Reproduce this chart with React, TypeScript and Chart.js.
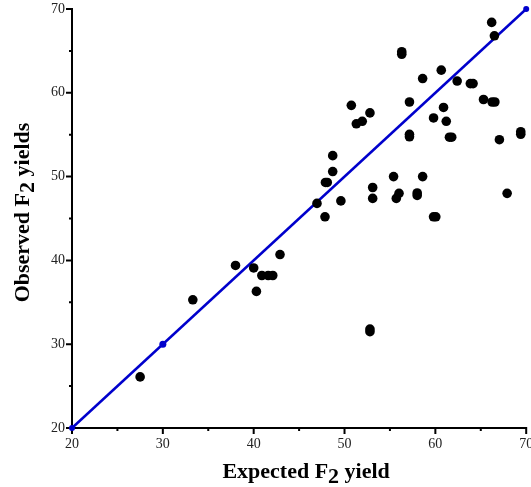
import React, { useEffect, useRef } from "react";
import { Chart, registerables } from "chart.js";

Chart.register(...registerables);

// Expected F2 yield (x) vs observed F2 yields (y)
const expectedYield: number[] = [
  27.5, 33.3, 38.0, 40.0, 40.9, 41.6, 42.1, 40.3, 42.9, 46.97,
  47.85, 47.9, 48.1, 48.7, 48.7, 49.6, 50.75, 51.3, 51.95, 52.8,
  52.8, 52.8, 53.1, 53.1, 55.4, 55.7, 56.0, 56.3, 56.3, 57.15,
  57.15, 57.15, 58.0, 58.0, 58.6, 58.6, 59.8, 59.8, 60.05, 60.65,
  60.9, 61.2, 61.55, 61.8, 62.4, 63.85, 64.15, 65.3, 66.25, 66.55,
  66.2, 66.5, 67.05, 67.9, 69.4, 69.4,
];
const observedYield: number[] = [
  26.1, 35.3, 39.4, 39.1, 38.2, 38.2, 38.2, 36.3, 40.7, 46.8,
  45.2, 49.3, 49.3, 50.6, 52.5, 47.1, 58.5, 56.3, 56.6, 57.6,
  31.5, 31.8, 48.7, 47.4, 50.0, 47.4, 48.0, 64.6, 64.9, 58.9,
  54.75, 55.05, 47.75, 48.05, 50.0, 61.7, 57.0, 45.2, 45.2, 62.7,
  58.25, 56.6, 54.7, 54.7, 61.4, 61.1, 61.1, 59.2, 58.9, 58.9,
  68.4, 66.8, 54.4, 48.0, 55.05, 55.35,
];
// 1:1 reference line and the marked point on it
const lineX: number[] = [20, 70];
const lineY: number[] = [20, 70];
const markX: number[] = [30];
const markY: number[] = [30];

const AXIS_MIN = 20;
const AXIS_MAX = 70;
const TICK_STEP = 5;

const xTitleParts: [string, boolean][] = [["Expected F", false], ["2", true], [" yield", false]];
const yTitleParts: [string, boolean][] = [["Observed F", false], ["2", true], [" yields", false]];

const SERIF = '"Liberation Serif", "Times New Roman", serif';
const BLUE = "#0000cc";

function drawParts(ctx: CanvasRenderingContext2D, parts: [string, boolean][], cx: number, baseline: number) {
  ctx.font = `bold 22px ${SERIF}`;
  const widths = parts.map(([t]) => ctx.measureText(t).width);
  const total = widths.reduce((a, b) => a + b, 0);
  let x = cx - total / 2;
  ctx.textBaseline = "alphabetic";
  ctx.textAlign = "left";
  parts.forEach(([t, sub], i) => {
    ctx.fillText(t, x, baseline + (sub ? 5 : 0));
    x += widths[i];
  });
}

const axesPlugin = {
  id: "customAxes",
  beforeDatasetsDraw(chart: any) {
    const { ctx, chartArea } = chart;
    const xs = chart.scales.x;
    const ys = chart.scales.y;
    ctx.save();
    ctx.strokeStyle = "#000";
    ctx.lineWidth = 2;
    ctx.beginPath();
    ctx.moveTo(chartArea.left, chartArea.top - 1);
    ctx.lineTo(chartArea.left, chartArea.bottom + 1);
    ctx.moveTo(chartArea.left - 1, chartArea.bottom);
    ctx.lineTo(chartArea.right + 1, chartArea.bottom);
    for (let v = AXIS_MIN; v <= AXIS_MAX; v += TICK_STEP) {
      const len = v % 10 === 0 ? 6 : 3;
      const px = xs.getPixelForValue(v);
      ctx.moveTo(px, chartArea.bottom);
      ctx.lineTo(px, chartArea.bottom + len);
      const py = ys.getPixelForValue(v);
      ctx.moveTo(chartArea.left, py);
      ctx.lineTo(chartArea.left - len, py);
    }
    ctx.stroke();
    ctx.restore();
  },
  afterDraw(chart: any) {
    const { ctx, chartArea } = chart;
    ctx.save();
    ctx.fillStyle = "#000";
    const cx = (chartArea.left + chartArea.right) / 2 + 7;
    drawParts(ctx, xTitleParts, cx, 478);
    ctx.translate(29, (chartArea.top + chartArea.bottom) / 2 - 6);
    ctx.rotate(-Math.PI / 2);
    drawParts(ctx, yTitleParts, 0, 0);
    ctx.restore();
  },
};

export default function App() {
  const ref = useRef<HTMLCanvasElement>(null);
  useEffect(() => {
    if (!ref.current) return;
    const pts = expectedYield.map((x, i) => ({ x, y: observedYield[i] }));
    const linePts = lineX.map((x, i) => ({ x, y: lineY[i] }));
    const markPts = markX.map((x, i) => ({ x, y: markY[i] }));
    const tickCb = (v: any) => (Number(v) % 10 === 0 ? String(v) : "");
    const chart = new Chart(ref.current, {
      type: "scatter",
      data: {
        datasets: [
          {
            label: "Observed",
            data: pts,
            backgroundColor: "#000",
            borderWidth: 0,
            pointRadius: 4.8,
            order: 0,
            clip: false,
          } as any,
          {
            label: "1:1",
            type: "line",
            data: linePts,
            borderColor: BLUE,
            backgroundColor: BLUE,
            borderWidth: 2.5,
            pointRadius: 3,
            pointBorderWidth: 0,
            showLine: true,
            order: 2,
            clip: false,
          } as any,
          {
            label: "mark",
            data: markPts,
            backgroundColor: BLUE,
            borderWidth: 0,
            pointRadius: 3.5,
            order: 1,
            clip: false,
          } as any,
        ],
      },
      options: {
        responsive: false,
        animation: false,
        layout: { padding: { top: 9, right: 1, left: 0, bottom: 0 } },
        plugins: { legend: { display: false }, tooltip: { enabled: false } },
        scales: {
          x: {
            type: "linear",
            min: AXIS_MIN,
            max: AXIS_MAX,
            grid: { display: false, drawTicks: false },
            border: { display: false },
            ticks: {
              stepSize: TICK_STEP,
              autoSkip: false,
              maxRotation: 0,
              padding: 8,
              color: "#222",
              font: { family: SERIF, size: 14 },
              callback: tickCb,
            },
            afterFit: (s: any) => {
              s.height = 59;
              s.paddingLeft = 0;
              s.paddingRight = 0;
            },
          },
          y: {
            type: "linear",
            min: AXIS_MIN,
            max: AXIS_MAX,
            grid: { display: false, drawTicks: false },
            border: { display: false },
            ticks: {
              stepSize: TICK_STEP,
              autoSkip: false,
              padding: 7,
              color: "#222",
              font: { family: SERIF, size: 14 },
              callback: tickCb,
            },
            afterFit: (s: any) => {
              s.width = 72;
              s.paddingTop = 0;
              s.paddingBottom = 0;
            },
          },
        },
      },
      plugins: [axesPlugin],
    });
    return () => chart.destroy();
  }, []);
  return (
    <div style={{ position: "fixed", left: 0, top: 0, width: 531, height: 487, background: "#fff" }}>
      <canvas ref={ref} width={531} height={487} style={{ display: "block" }} />
    </div>
  );
}
